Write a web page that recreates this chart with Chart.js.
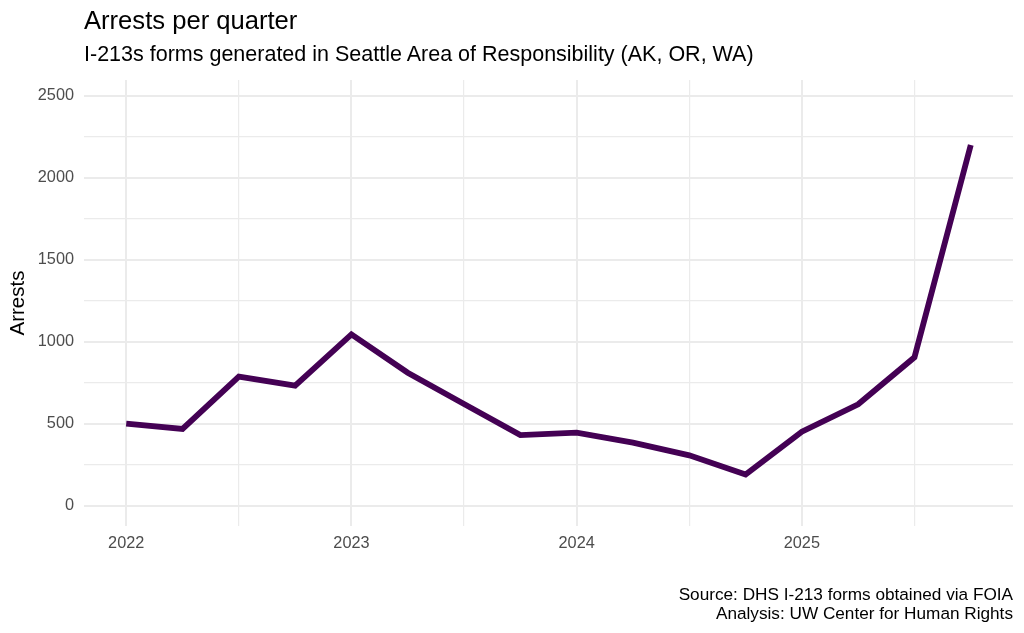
<!DOCTYPE html>
<html>
<head>
<meta charset="utf-8">
<script src="https://cdn.jsdelivr.net/npm/chart.js@4.4.1/dist/chart.umd.min.js"></script>
<style>
  html, body { margin: 0; padding: 0; background: #fff; }
  #wrap { position: relative; width: 1024px; height: 633px; font-family: "Liberation Sans", Arial, sans-serif; }
  #chart { position: absolute; left: 0; top: 0; }
  .title { position: absolute; left: 84px; top: 6px; font-size: 25.6px; color: #000; white-space: nowrap; }
  .subtitle { position: absolute; left: 84px; top: 42px; font-size: 21.5px; color: #000; white-space: nowrap; }
  .caption { position: absolute; right: 11px; top: 585px; font-size: 17.2px; line-height: 19px; color: #000; text-align: right; white-space: nowrap; }
</style>
</head>
<body>
<div id="wrap">
  <canvas id="chart" width="1024" height="633"></canvas>
  <div class="title">Arrests per quarter</div>
  <div class="subtitle">I-213s forms generated in Seattle Area of Responsibility (AK, OR, WA)</div>
  <div class="caption">Source: DHS I-213 forms obtained via FOIA<br>Analysis: UW Center for Human Rights</div>
</div>
<script>
// quarter start, as decimal year
var quarters = [2022, 2022.25, 2022.5, 2022.75,
                2023, 2023.25, 2023.5, 2023.75,
                2024, 2024.25, 2024.5, 2024.75,
                2025, 2025.25, 2025.5, 2025.75];
var arrests = [500, 468, 787, 732,
               1045, 811, 620, 430,
               445, 384, 307, 190,
               451, 618, 905, 2200];

// labelled (major) ticks and all grid positions (major + minor)
var yearTicks = [2022, 2023, 2024, 2025];
var xGrid = [2022, 2022.5, 2023, 2023.5, 2024, 2024.5, 2025, 2025.5];
var arrestTicks = [0, 500, 1000, 1500, 2000, 2500];
var yGrid = [0, 250, 500, 750, 1000, 1250, 1500, 1750, 2000, 2250, 2500];

var points = quarters.map(function (q, i) {
    return { x: q, y: arrests[i] };
});

var gridColor = '#EBEBEB';
var tickColor = '#4D4D4D';

var setTicks = function (values) {
    return function (scale) {
        scale.ticks = values.map(function (v) { return { value: v }; });
    };
};

var ctx = document.getElementById('chart').getContext('2d');
var chart = new Chart(ctx, {
    type: 'line',
    data: {
        datasets: [{
            label: 'Arrests',
            data: points,
            borderColor: '#440154',
            borderWidth: 5.8,
            pointRadius: 0,
            tension: 0,
            borderJoinStyle: 'miter',
            borderCapStyle: 'butt',
            fill: false
        }]
    },
    options: {
        responsive: false,
        animation: { duration: 0 },
        layout: { padding: { top: 80, right: 11, bottom: 60, left: 0 } },
        plugins: {
            legend: { display: false },
            tooltip: { enabled: false }
        },
        scales: {
            x: {
                type: 'linear',
                min: 2021.8125,
                max: 2025.9375,
                border: { display: false },
                afterBuildTicks: setTicks(xGrid),
                grid: {
                    color: gridColor,
                    drawTicks: false,
                    lineWidth: function (c) {
                        return yearTicks.indexOf(c.tick.value) >= 0 ? 2 : 1.2;
                    }
                },
                ticks: {
                    autoSkip: false,
                    maxRotation: 0,
                    padding: 8,
                    color: tickColor,
                    font: { family: 'Liberation Sans', size: 16.3 },
                    callback: function (v) {
                        return yearTicks.indexOf(v) >= 0 ? String(v) : '';
                    }
                },
                afterFit: function (scale) { scale.height = 47; }
            },
            y: {
                min: -124,
                max: 2596,
                border: { display: false },
                afterBuildTicks: setTicks(yGrid),
                grid: {
                    color: gridColor,
                    drawTicks: false,
                    lineWidth: function (c) {
                        return arrestTicks.indexOf(c.tick.value) >= 0 ? 2 : 1.2;
                    }
                },
                title: {
                    display: true,
                    text: 'Arrests',
                    color: '#000',
                    font: { family: 'Liberation Sans', size: 20.5 },
                    padding: { top: 6, bottom: 4 }
                },
                ticks: {
                    autoSkip: false,
                    padding: 10,
                    color: tickColor,
                    font: { family: 'Liberation Sans', size: 16.3 },
                    callback: function (v) {
                        return arrestTicks.indexOf(v) >= 0 ? String(v) : '';
                    }
                },
                afterFit: function (scale) { scale.width = 84; }
            }
        }
    }
});
</script>
</body>
</html>
